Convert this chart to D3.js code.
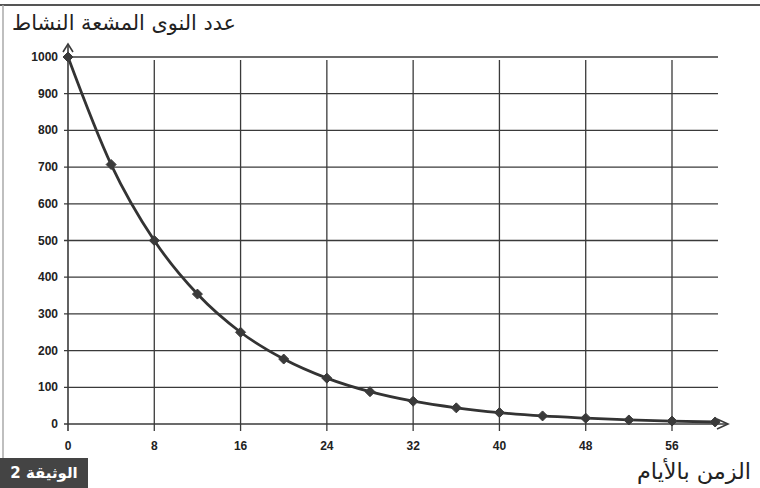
<!DOCTYPE html>
<html><head><meta charset="utf-8">
<script src="https://cdn.jsdelivr.net/npm/d3@7"></script>
<style>html,body{margin:0;padding:0;background:#fff;}svg{display:block;}</style>
</head><body>
<script>
const days = [0,4,8,12,16,20,24,28,32,36,40,44,48,52,56,60];
const nuclei = [1000,707,500,354,250,177,125,88,62,44,31,22,16,11,8,5.5];
const xTicks = [0,8,16,24,32,40,48,56];
const yTicks = [0,100,200,300,400,500,600,700,800,900,1000];
const yTitle = "عدد النوى المشعة النشاط";
const xTitle = "الزمن بالأيام";
const docLabel = "الوثيقة 2";

const W=760,H=488;
const svg=d3.select("body").append("svg").attr("width",W).attr("height",H);
const x=d3.scaleLinear().domain([0,56]).range([68,672]);
const y=d3.scaleLinear().domain([0,1000]).range([424,57]);
const ink="#3a3a3a";

// frame
svg.append("line").attr("x1",0).attr("x2",W).attr("y1",5).attr("y2",5).attr("stroke","#555").attr("stroke-width",2);
svg.append("line").attr("x1",3).attr("x2",3).attr("y1",5).attr("y2",458).attr("stroke","#aaa").attr("stroke-width",1.5);

// horizontal grid
svg.append("g").selectAll("line").data(yTicks.filter(d=>d>0)).join("line")
  .attr("x1",x(0)-4).attr("x2",718).attr("y1",d=>y(d)).attr("y2",d=>y(d))
  .attr("stroke",ink).attr("stroke-width",1.3);
// vertical grid
svg.append("g").selectAll("line").data(xTicks.filter(d=>d>0)).join("line")
  .attr("x1",d=>x(d)).attr("x2",d=>x(d)).attr("y1",60).attr("y2",431)
  .attr("stroke",ink).attr("stroke-width",1.3);

// axes
svg.append("line").attr("x1",x(0)).attr("x2",x(0)).attr("y1",46).attr("y2",431).attr("stroke",ink).attr("stroke-width",1.6);
svg.append("line").attr("x1",x(0)-4).attr("x2",727).attr("y1",y(0)).attr("y2",y(0)).attr("stroke",ink).attr("stroke-width",1.6);
// arrows
svg.append("path").attr("d",`M${x(0)-5},${52} L${x(0)},${44} L${x(0)+5},${52}`).attr("fill","none").attr("stroke",ink).attr("stroke-width",1.6);
svg.append("path").attr("d",`M717,${y(0)-5} L728,${y(0)} L717,${y(0)+5}`).attr("fill","none").attr("stroke",ink).attr("stroke-width",1.6);

// tick labels
svg.append("g").selectAll("text").data(yTicks).join("text")
  .attr("x",58).attr("y",d=>y(d)+4).attr("text-anchor","end")
  .attr("font-family","Liberation Sans, Arial, sans-serif").attr("font-weight","bold").attr("font-size",12).attr("fill","#222")
  .text(d=>d);
svg.append("g").selectAll("text").data(xTicks).join("text")
  .attr("x",d=>x(d)).attr("y",450).attr("text-anchor","middle")
  .attr("font-family","Liberation Sans, Arial, sans-serif").attr("font-weight","bold").attr("font-size",12).attr("fill","#222")
  .text(d=>d);

// curve
const pts=days.map((d,i)=>[d,nuclei[i]]);
const line=d3.line().x(d=>x(d[0])).y(d=>y(d[1])).curve(d3.curveMonotoneX);
svg.append("path").attr("d",line(pts)).attr("fill","none").attr("stroke","#333").attr("stroke-width",2.8);
svg.append("g").selectAll("path").data(pts).join("path")
  .attr("transform",d=>`translate(${x(d[0])},${y(d[1])})`)
  .attr("d","M0,-5 L5,0 L0,5 L-5,0 Z").attr("fill","#3a3a3a").attr("stroke","#3a3a3a").attr("stroke-width",1).attr("stroke-linejoin","round");

// titles
svg.append("text").attr("x",236).attr("y",30).attr("text-anchor","end")
  .attr("font-family","DejaVu Sans, sans-serif").attr("font-size",21).attr("fill","#222")
  .attr("textLength",224).attr("lengthAdjust","spacingAndGlyphs").text(yTitle);
svg.append("text").attr("x",751).attr("y",479).attr("text-anchor","end")
  .attr("font-family","DejaVu Sans, sans-serif").attr("font-size",22).attr("fill","#222")
  .attr("textLength",114).attr("lengthAdjust","spacingAndGlyphs").text(xTitle);

// doc label box
svg.append("rect").attr("x",0).attr("y",458).attr("width",88).attr("height",30).attr("fill","#444");
svg.append("text").attr("x",44).attr("y",478).attr("text-anchor","middle")
  .attr("font-family","DejaVu Sans, sans-serif").attr("font-weight","bold").attr("font-size",15).attr("fill","#fff").text(docLabel);
</script>
</body></html>
